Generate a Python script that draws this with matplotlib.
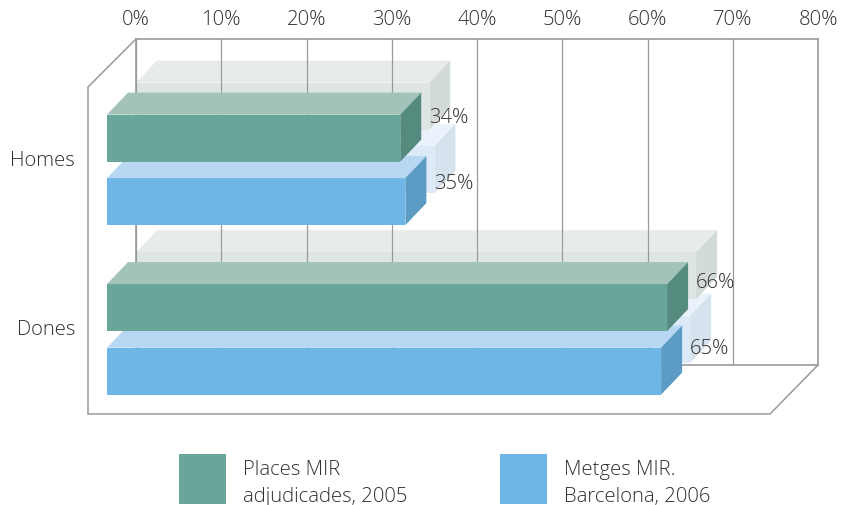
import matplotlib
matplotlib.use("Agg")
import matplotlib.pyplot as plt
from matplotlib.patches import Patch

categories = ["Homes", "Dones"]
places_mir = [34.4, 65.7]
metges_mir = [35.0, 65.0]
series_names = ["Places MIR\nadjudicades, 2005", "Metges MIR.\nBarcelona, 2006"]
x_ticks = [0, 10, 20, 30, 40, 50, 60, 70, 80]

W, H = 844, 506
plt.rcParams["font.family"] = ["Open Sans", "DejaVu Sans"]
plt.rcParams["font.weight"] = "light"
TXT = "#303030"
GRID = "#9a9a9a"
FS = 14.6

fig = plt.figure(figsize=(W / 100, H / 100), dpi=100)
L, R, T, B = 136, 818, 40, 366
ax = fig.add_axes([L / W, 1 - B / H, (R - L) / W, (B - T) / H])

PX_X = (R - L) / 80.0
PX_Y = 169.5
Y0 = 159.6
ax.set_xlim(0, 80)
ax.set_ylim((B - Y0) / PX_Y, (T - Y0) / PX_Y)


def dx(px):
    return px / PX_X


def dy(px):
    return px / PX_Y


ypos = range(len(categories))
BAR_H = dy(47)
OFF_G = dy(-20.5)
OFF_B = dy(43)
LEFT = dx(-29)
DX3, DY3 = dx(21), dy(22)
SDX, SDY = dx(29), dy(32)

# vertical nudge (px) of the value labels above the bar centre
LABEL_UP_G = [21, 26]
LABEL_UP_B = [18.5, 23]

GREEN = dict(front="#68a69a", top="#a3c2ba", side="#558a7e",
             sfront="#dee6e4", stop="#e7ecea", sside="#d3dbd8")
BLUE = dict(front="#6db6e6", top="#b7d7f2", side="#5b9bc4",
            sfront="#dce9f7", stop="#eaf2fb", sside="#d6e2ee")


def box(y, val, front, top, side, z, ox=0.0, oy=0.0):
    x0, x1 = LEFT + ox, LEFT + val + ox
    yt, yb = y - BAR_H / 2 - oy, y + BAR_H / 2 - oy
    ax.barh(y - oy, val, height=BAR_H, left=x0, color=front, lw=0, zorder=z, clip_on=False)
    ax.fill([x0, x1, x1 + DX3, x0 + DX3], [yt, yt, yt - DY3, yt - DY3],
            color=top, lw=0, zorder=z, clip_on=False)
    ax.fill([x1, x1 + DX3, x1 + DX3, x1], [yt, yt - DY3, yb - DY3, yb],
            color=side, lw=0, zorder=z, clip_on=False)


for i in ypos:
    # shadows on the back wall
    box(i + OFF_B, metges_mir[i], BLUE["sfront"], BLUE["stop"], BLUE["sside"], 1.0, SDX, SDY)
    box(i + OFF_G, places_mir[i], GREEN["sfront"], GREEN["stop"], GREEN["sside"], 1.1, SDX, SDY)
    # bars
    box(i + OFF_B, metges_mir[i], BLUE["front"], BLUE["top"], BLUE["side"], 3.0)
    box(i + OFF_G, places_mir[i], GREEN["front"], GREEN["top"], GREEN["side"], 3.1)
    for y, val, up in ((i + OFF_G, places_mir[i], LABEL_UP_G[i]),
                       (i + OFF_B, metges_mir[i], LABEL_UP_B[i])):
        ax.annotate(f"{val:.0f}%", (LEFT + val, y), xytext=(28.5 / 100 * 72, up / 100 * 72),
                    textcoords="offset points", ha="left", va="center",
                    fontsize=FS, color=TXT, zorder=5, annotation_clip=False)

ax.set_axisbelow(False)
ax.grid(axis="x", color=GRID, lw=0.9, zorder=2)
for g in ax.get_xgridlines():
    g.set_zorder(2)
ax.set_xticks(x_ticks)
ax.set_xticklabels([f"{t}%" for t in x_ticks], fontsize=FS, color=TXT)
ax.xaxis.tick_top()
ax.tick_params(axis="x", length=0, pad=7)
ax.set_yticks([i - dy(1.5) for i in ypos])
ax.set_yticklabels(categories, fontsize=FS, color=TXT)
ax.tick_params(axis="y", length=0, pad=44)
ax.patch.set_alpha(0)
for s in ax.spines.values():
    s.set_color(GRID)
    s.set_linewidth(1.2)
    s.set_zorder(0.5)

# floor and left wall of the 3D box
x0, x1 = ax.get_xlim()
yb, yt = ax.get_ylim()
fx, fy = dx(-48), dy(48)
frame = dict(color=GRID, lw=1.1, clip_on=False, zorder=0.6, solid_joinstyle="miter")
ax.plot([x0, x0 + fx, x0 + fx, x1 + fx, x1],
        [yt, yt + fy, yb + dy(49), yb + dy(49), yb], **frame)

handles = [Patch(color=GREEN["front"], lw=0), Patch(color=BLUE["front"], lw=0)]
leg = fig.legend(handles, series_names, ncols=2, frameon=False, fontsize=FS,
                 loc="upper left", bbox_to_anchor=(179 / W, 1 - 455 / H),
                 bbox_transform=fig.transFigure,
                 handlelength=2.318, handleheight=3.417, handletextpad=0.838,
                 columnspacing=4.55, borderpad=0, borderaxespad=0)
for t in leg.get_texts():
    t.set_color(TXT)
    t.set_linespacing(1.46)
    t.set_y(-5)

fig.savefig("out.png", dpi=100)
